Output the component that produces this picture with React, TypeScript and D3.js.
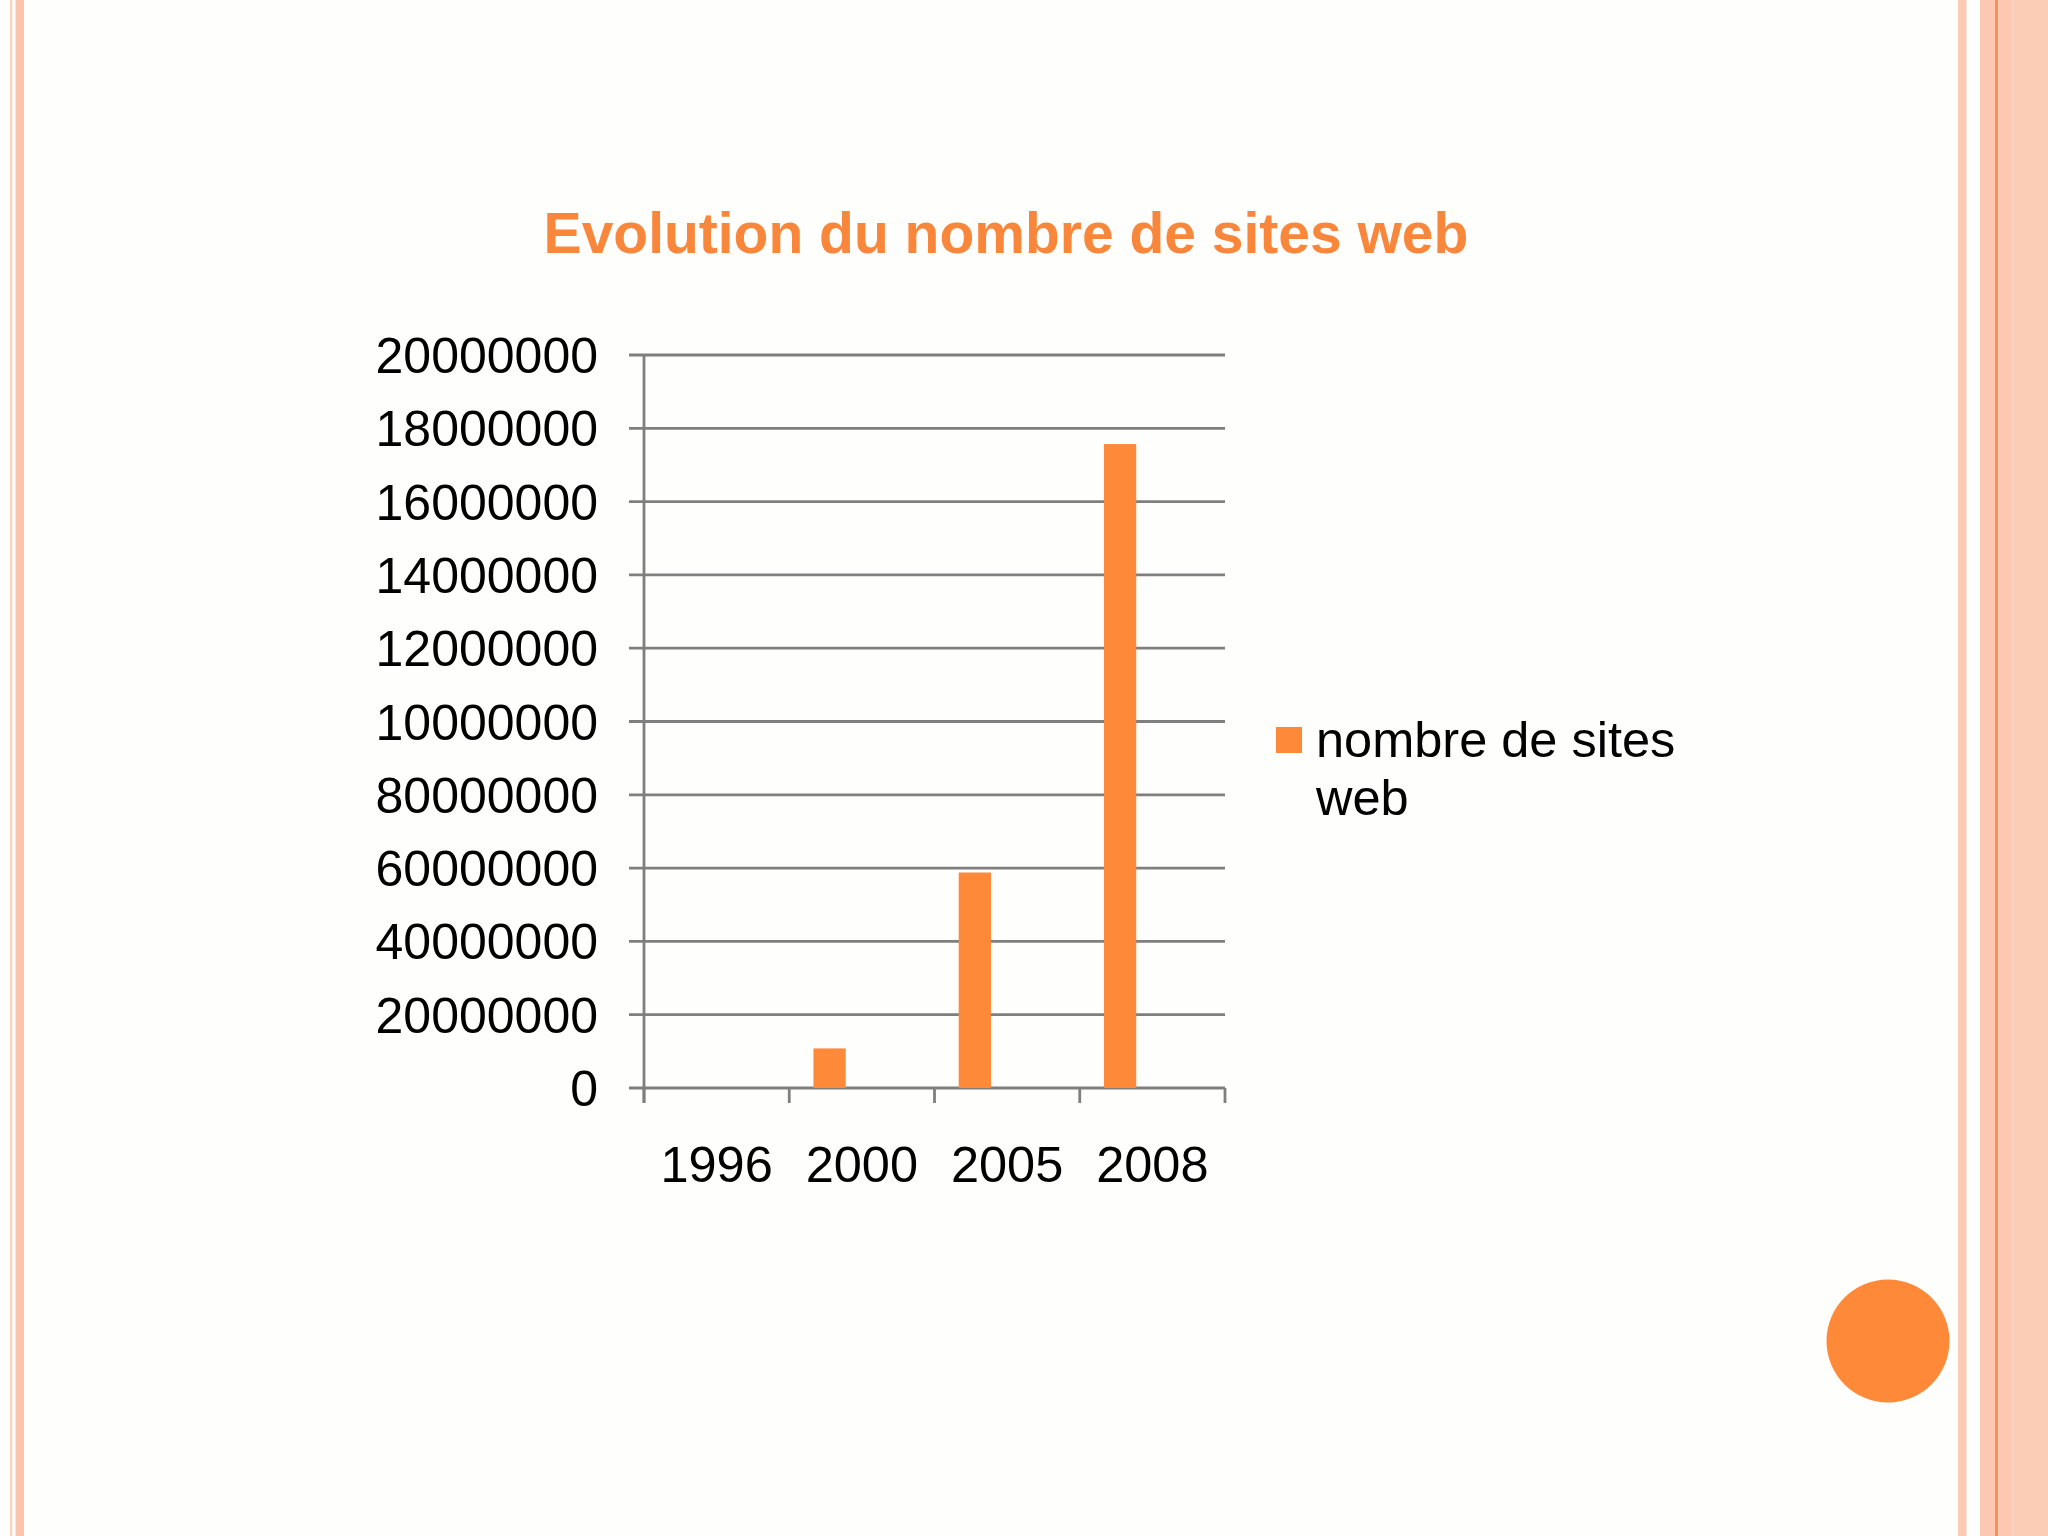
import React from "react";
import * as d3 from "d3";

const categories = ["1996", "2000", "2005", "2008"];
const seriesName = "nombre de sites web";
const seriesValues = [0, 1080000, 5880000, 17570000];
const seriesSlots = ["s1", "s2", "s3"];
const yTickValues = [0, 2000000, 4000000, 6000000, 8000000, 10000000, 12000000, 14000000, 16000000, 18000000, 20000000];
const yTickLabels = ["0", "20000000", "40000000", "60000000", "80000000", "10000000", "12000000", "14000000", "16000000", "18000000", "20000000"];
const title = "Evolution du nombre de sites web";

const W = 2048;
const H = 1536;
const ORANGE = "#FD8939";
const GRID = "#7F7F7F";
const FONT = "'Liberation Sans', Arial, Helvetica, sans-serif";

export default function App() {
  const plotLeft = 644;
  const plotRight = 1225;
  const plotTop = 355;
  const plotBottom = 1088;

  const x = d3.scaleBand<string>().domain(categories).range([plotLeft, plotRight]).paddingInner(0).paddingOuter(0);
  const sub = d3.scaleBand<string>().domain(seriesSlots).range([0, x.bandwidth()]).paddingInner(0).paddingOuter(0.75);
  const y = d3.scaleLinear().domain([0, 20000000]).range([plotBottom, plotTop]);

  const tickLen = 15;
  const boundaries = [...categories.map((c) => x(c) as number), plotRight];

  return (
    <svg
      width={W}
      height={H}
      viewBox={`0 0 ${W} ${H}`}
      style={{ position: "absolute", left: 0, top: 0, display: "block" }}
      fontFamily={FONT}
    >
      <rect x={0} y={0} width={W} height={H} fill="#FEFEFC" />
      {/* left border stripes */}
      <rect x={10} y={0} width={2.5} height={H} fill="#FBD5C4" />
      <rect x={15.5} y={0} width={8.5} height={H} fill="#FCC4AC" />
      {/* right border stripes */}
      <rect x={1958} y={0} width={8.5} height={H} fill="#FCCBB6" />
      <rect x={1980} y={0} width={15} height={H} fill="#FCC8B1" />
      <rect x={1995} y={0} width={3.3} height={H} fill="#FD8E55" />
      <rect x={1998.3} y={0} width={14} height={H} fill="#FCC8B1" />
      <rect x={2012.3} y={0} width={W - 2012.3} height={H} fill="#FBCDB7" />

      {/* title */}
      <text x={1006} y={253} textAnchor="middle" fontSize={57} fontWeight="bold" fill="#F9873B">
        {title}
      </text>

      {/* gridlines and y ticks */}
      {yTickValues.map((v, i) => (
        <g key={"g" + i}>
          <line x1={plotLeft - tickLen} x2={plotRight} y1={y(v)} y2={y(v)} stroke={GRID} strokeWidth={2.8} />
          <text x={598} y={y(v) + 18} textAnchor="end" fontSize={50} fill="#000">
            {yTickLabels[i]}
          </text>
        </g>
      ))}

      {/* vertical axis */}
      <line x1={plotLeft} x2={plotLeft} y1={plotTop} y2={plotBottom + tickLen} stroke={GRID} strokeWidth={2.8} />
      {/* x ticks */}
      {boundaries.map((bx, i) => (
        <line key={"xt" + i} x1={bx} x2={bx} y1={plotBottom} y2={plotBottom + tickLen} stroke={GRID} strokeWidth={2.8} />
      ))}

      {/* bars */}
      {categories.map((c, i) => {
        const v = seriesValues[i];
        const bx = (x(c) as number) + (sub("s1") as number);
        return (
          <rect key={"b" + c} x={bx} y={y(v)} width={sub.bandwidth()} height={y(0) - y(v)} fill={ORANGE} />
        );
      })}

      {/* x labels */}
      {categories.map((c) => (
        <text key={"xl" + c} x={(x(c) as number) + x.bandwidth() / 2} y={1182} textAnchor="middle" fontSize={50.5} fill="#000">
          {c}
        </text>
      ))}

      {/* legend */}
      <rect x={1276} y={727} width={26} height={26} fill={ORANGE} />
      <text x={1316} y={757} fontSize={50.5} fill="#000">
        <tspan x={1316} y={757}>nombre de sites</tspan>
        <tspan x={1316} y={815}>web</tspan>
      </text>
      <title>{seriesName}</title>

      {/* decorative circle */}
      <circle cx={1888} cy={1341} r={61.5} fill={ORANGE} />
    </svg>
  );
}
